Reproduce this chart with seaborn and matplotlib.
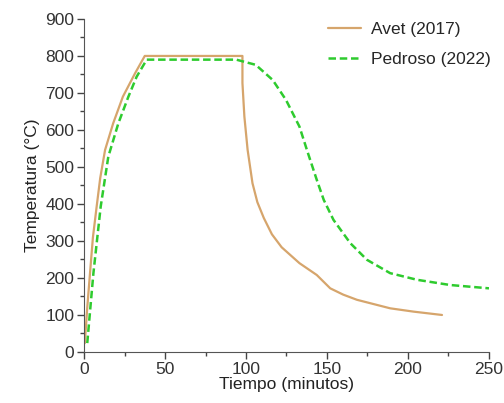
import seaborn as sns
import matplotlib.pyplot as plt
import pandas as pd
from matplotlib.ticker import MultipleLocator

# valores
avet_t = [0.5, 2, 3.7, 5.5, 7.8, 10, 13, 18, 24, 31.5, 37.5, 97.8, 97.8, 99, 101, 104,
          107, 111, 116, 122, 133, 143.7, 152, 160, 168.5, 189, 203.5, 221]
avet_T = [24, 120, 213, 310, 393, 470, 546, 618, 690, 753, 800, 800, 727, 636, 546, 456,
          405, 362, 318, 283, 240, 208, 172, 155, 141, 118, 109, 100]
pedroso_t = [2, 5.8, 10.3, 15, 21.2, 27.4, 32.5, 38.7, 94, 106, 116.5, 124.7, 133,
             137.6, 143.7, 148, 154, 164.4, 174.7, 189, 205.7, 226, 250]
pedroso_T = [24, 213, 393, 528, 618, 690, 744, 790, 790, 776, 735, 681, 609,
             546, 465, 411, 357, 294, 249, 213, 195, 181, 172]
labels = ['Avet (2017)', 'Pedroso (2022)']

df_avet = pd.DataFrame({'t': avet_t, 'T': avet_T})
df_ped = pd.DataFrame({'t': pedroso_t, 'T': pedroso_T})

sns.set_style('ticks')
plt.rcParams['font.family'] = ['Liberation Sans', 'DejaVu Sans']

fig = plt.figure(figsize=(5.04, 4.03), dpi=100)
ax = fig.add_axes([0.1667, 0.1266, 0.8035, 0.8264])
sns.lineplot(x='t', y='T', data=df_avet, sort=False, estimator=None, ax=ax,
             color='#d6a56c', linewidth=1.6, label=labels[0])
sns.lineplot(x='t', y='T', data=df_ped, sort=False, estimator=None, ax=ax,
             color='#2ecb2e', linewidth=1.8, linestyle=(0, (3, 1.5)), label=labels[1])

ax.set_xlim(0, 250)
ax.set_ylim(0, 900)
ax.xaxis.set_major_locator(MultipleLocator(50))
ax.xaxis.set_minor_locator(MultipleLocator(25))
ax.yaxis.set_major_locator(MultipleLocator(100))
ax.yaxis.set_minor_locator(MultipleLocator(50))
ax.tick_params(which='major', length=5, width=1, colors='#444444', labelsize=12.5,
               labelcolor='#333333', pad=2)
ax.tick_params(which='minor', length=3, width=1, colors='#444444')
for s in ['left', 'bottom']:
    ax.spines[s].set_color('#555555')
sns.despine(ax=ax)
ax.set_xlabel('Tiempo (minutos)', fontsize=12.5, color='#222222', labelpad=0)
ax.set_ylabel('Temperatura (°C)', fontsize=12.5, color='#222222', labelpad=4)

ax.legend(loc='upper right', bbox_to_anchor=(1.005, 0.985), bbox_transform=fig.transFigure,
          frameon=False, fontsize=12.5, handlelength=1.9, handletextpad=0.6,
          labelspacing=0.85)

plt.savefig('out.png', dpi=100)
